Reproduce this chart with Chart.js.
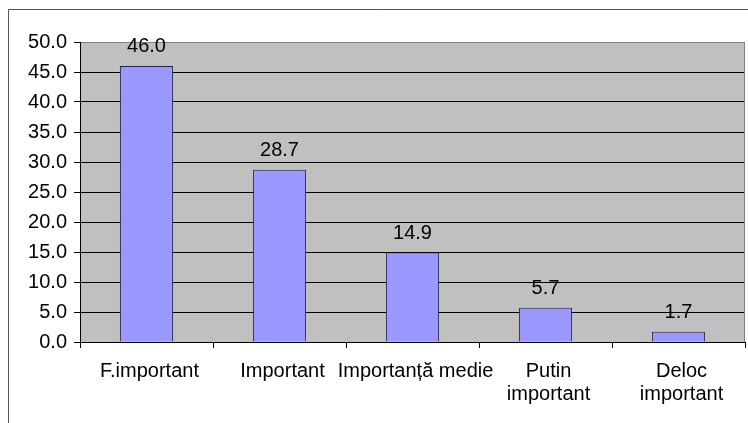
<!DOCTYPE html>
<html>
<head>
<meta charset="utf-8">
<script src="https://cdn.jsdelivr.net/npm/chart.js@4/dist/chart.umd.min.js"></script>
<style>
  html, body { margin: 0; padding: 0; background: #fff; }
  #wrap { width: 748px; height: 423px; position: relative; }
</style>
</head>
<body>
<div id="wrap"><canvas id="c" width="748" height="423"></canvas></div>
<script>
// Categories, values and y tick range
const categories = ['F.important', 'Important', 'Importanță medie', ['Putin', 'important'], ['Deloc', 'important']];
const values = [46.0, 28.7, 14.9, 5.7, 1.7];
const yMin = 0;
const yMax = 50;
const yStep = 5;

const FONT = "'Liberation Sans', Arial, sans-serif";

// Grey plot background plus outer frame lines
const frame = {
  id: 'frame',
  beforeDraw(chart) {
    const { ctx, chartArea: a } = chart;
    ctx.save();
    ctx.fillStyle = '#c0c0c0';
    ctx.fillRect(a.left, a.top, a.right - a.left, a.bottom - a.top);
    ctx.strokeStyle = '#555';
    ctx.lineWidth = 1;
    ctx.beginPath();
    ctx.moveTo(8.5, chart.height);
    ctx.lineTo(8.5, 9.5);
    ctx.lineTo(chart.width, 9.5);
    ctx.stroke();
    ctx.restore();
  },
  afterDatasetsDraw(chart) {
    const { ctx, chartArea: a } = chart;
    ctx.save();
    ctx.strokeStyle = '#808080';
    ctx.lineWidth = 1;
    ctx.beginPath();
    ctx.moveTo(a.right - 0.5, a.top);
    ctx.lineTo(a.right - 0.5, a.bottom);
    ctx.stroke();
    // value labels above each bar
    const meta = chart.getDatasetMeta(0);
    ctx.fillStyle = '#000';
    ctx.font = '20px ' + FONT;
    ctx.textAlign = 'center';
    ctx.textBaseline = 'alphabetic';
    meta.data.forEach((bar, i) => {
      ctx.fillText(values[i].toFixed(1), bar.x, bar.y - 14);
    });
    ctx.restore();
  }
};

new Chart(document.getElementById('c'), {
  type: 'bar',
  data: {
    labels: categories,
    datasets: [{
      data: values,
      backgroundColor: '#9999ff',
      borderColor: '#222244',
      borderWidth: 1,
      borderSkipped: 'bottom',
      barPercentage: 0.4,
      categoryPercentage: 1.0
    }]
  },
  options: {
    responsive: false,
    animation: false,
    devicePixelRatio: 1,
    layout: { padding: { top: 42, right: 3, left: 0, bottom: 0 } },
    plugins: { legend: { display: false }, tooltip: { enabled: false } },
    scales: {
      x: {
        afterFit(s) { s.height = 81; },
        border: { color: '#000', width: 1 },
        grid: {
          offset: true,
          drawOnChartArea: false,
          drawTicks: true,
          tickLength: 6,
          color: '#000'
        },
        ticks: {
          autoSkip: false,
          maxRotation: 0,
          minRotation: 0,
          padding: 12,
          labelOffset: 3,
          color: '#000',
          font: { family: FONT, size: 20, lineHeight: 1.15 }
        }
      },
      y: {
        min: yMin,
        max: yMax,
        afterFit(s) { s.width = 80; },
        border: { color: '#000', width: 1 },
        grid: {
          color: (c) => (c.tick && c.tick.value === yMax ? '#808080' : '#000'),
          tickColor: '#000',
          tickLength: 6,
          drawTicks: true
        },
        ticks: {
          stepSize: yStep,
          padding: 7,
          color: '#000',
          font: { family: FONT, size: 20 },
          callback: (v) => Number(v).toFixed(1)
        }
      }
    }
  },
  plugins: [frame]
});
</script>
</body>
</html>
